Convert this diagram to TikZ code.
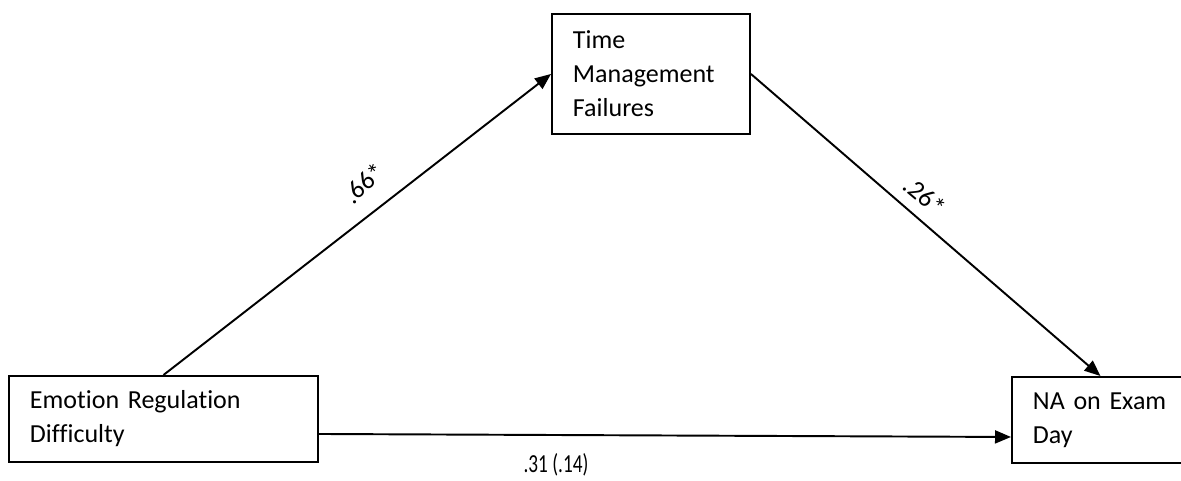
\documentclass[tikz,border=0pt]{standalone}
\usepackage{fontspec}
\setmainfont{Carlito}[Ligatures=NoCommon]
\usetikzlibrary{arrows.meta}

\begin{document}
\begin{tikzpicture}[
        varbox/.style={draw,black,line width=1.1pt,align=left,anchor=north west,inner xsep=0.42cm,inner ysep=0pt,font=\fontsize{14.8}{19.3}\selectfont},
        coef/.style={font=\fontsize{14.8}{18}\selectfont},
        effect/.style={black,line width=1.1pt,-{Triangle[length=0.32cm,width=0.26cm]}}
    ]
            \useasboundingbox (0,0) rectangle (23.62,-9.6);
            \clip (0,0) rectangle (23.62,-9.6);
            \node[varbox,text width=3.12cm,minimum height=2.4cm] (tmf) at (11.02,-0.26){Time\\Management\\Failures};
            \node[varbox,text width=5.34cm,minimum height=1.72cm] (erd) at (0.16,-7.5){Emotion Regulation\\Difficulty};
            \node[varbox,text width=2.7cm,minimum height=1.72cm] (na) at (20.22,-7.52){NA on Exam\\Day};

            \draw[effect] (erd.north) -- (tmf.west);
            \draw[effect] (tmf.east) -- (na.north);
            \draw[effect] ([yshift=-0.3cm]erd.east) -- ([yshift=-0.34cm]na.west);

            \node[coef,rotate=42] (ab) at (7.28,-3.66){.66*};
            \node[coef,rotate=-40] (bc) at (18.5,-3.92){.26*};
            \node[coef,xscale=0.74,transform shape] (ac) at (11.12,-9.3){.31 (.14)};
        \end{tikzpicture}
\end{document}
